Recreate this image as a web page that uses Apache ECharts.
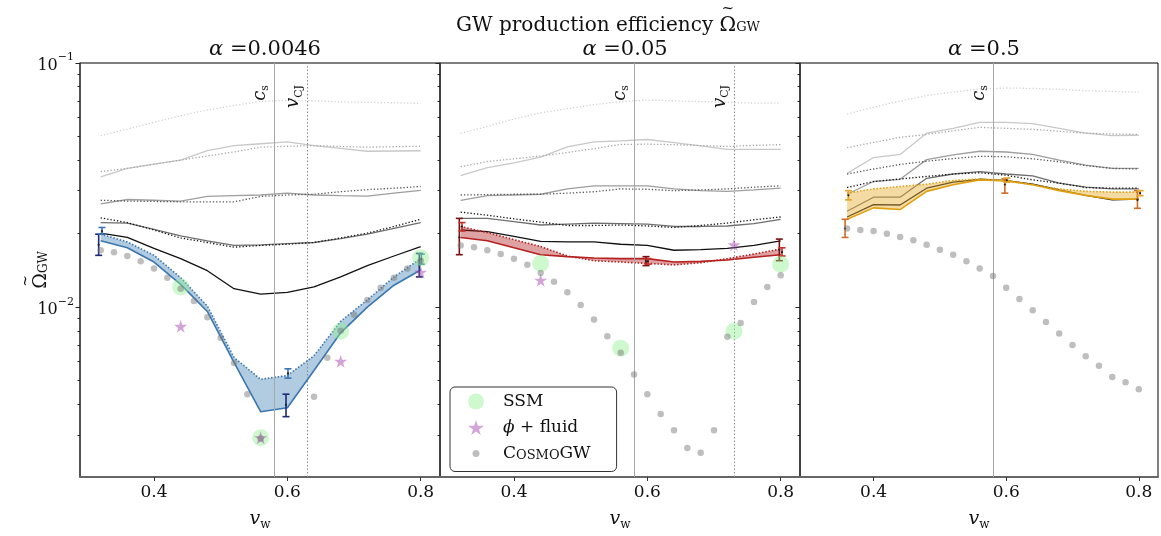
<!DOCTYPE html>
<html>
<head>
<meta charset="utf-8">
<script src="https://cdn.jsdelivr.net/npm/echarts@6/dist/echarts.min.js"></script>
<style>html,body{margin:0;padding:0;background:#fff}#main{width:1161px;height:536px}</style>
</head>
<body>
<div id="main"></div>
<script>
var FONT = 'DejaVu Serif';

// wall velocities of the simulation runs
var vwRuns = [0.32, 0.36, 0.40, 0.44, 0.48, 0.52, 0.56, 0.60, 0.64, 0.68, 0.72, 0.76, 0.80];
var vwRuns3 = [0.36, 0.40, 0.44, 0.48, 0.52, 0.56, 0.60, 0.64, 0.68, 0.72, 0.76, 0.80];
var vwCosmo = [0.32, 0.34, 0.36, 0.38, 0.40, 0.42, 0.44, 0.46, 0.48, 0.50, 0.52, 0.54, 0.56,
  0.58, 0.60, 0.62, 0.64, 0.66, 0.68, 0.70, 0.72, 0.74, 0.76, 0.78, 0.80];
var vwCosmo3 = [0.36, 0.38, 0.40, 0.42, 0.44, 0.46, 0.48, 0.50, 0.52, 0.54, 0.56, 0.58,
  0.60, 0.62, 0.64, 0.66, 0.68, 0.70, 0.72, 0.74, 0.76, 0.78, 0.80];

var cs = 0.5774;
var vCJ = [0.631, 0.7305, null];
var alphas = ['0.0046', '0.05', '0.5'];

// alpha = 0.0046
var a1_top = [0.0504, 0.0536, 0.0572, 0.0608, 0.0642, 0.067, 0.0696, 0.0703, 0.070, 0.0693, 0.069, 0.0687, 0.0683];
var a1_l2s = [0.0342, 0.037, 0.0385, 0.040, 0.0438, 0.0459, 0.0467, 0.0475, 0.0459, 0.0447, 0.0435, 0.0436, 0.0437];
var a1_l2d = [0.0359, 0.037, 0.0385, 0.040, 0.0416, 0.0432, 0.0452, 0.0456, 0.0459, 0.0455, 0.0452, 0.0454, 0.0456];
var a1_l3s = [0.0265, 0.0276, 0.0274, 0.0272, 0.0284, 0.0286, 0.0288, 0.0293, 0.0288, 0.0286, 0.0285, 0.0293, 0.0301];
var a1_l3d = [0.0274, 0.0272, 0.0271, 0.027, 0.027, 0.027, 0.0284, 0.0288, 0.029, 0.0297, 0.0303, 0.0307, 0.0312];
var a1_l4s = [0.0222, 0.0221, 0.0208, 0.0196, 0.0187, 0.0179, 0.018, 0.0182, 0.0184, 0.0191, 0.0199, 0.021, 0.0222];
var a1_l4d = [0.0232, 0.0222, 0.0207, 0.0192, 0.0184, 0.0176, 0.0179, 0.0181, 0.0184, 0.0192, 0.0201, 0.0214, 0.0229];
var a1_l5 = [0.0201, 0.0193, 0.0174, 0.0158, 0.0141, 0.0119, 0.0113, 0.0115, 0.0121, 0.0133, 0.0148, 0.0162, 0.0177];
var a1_lo = [0.0187, 0.0175, 0.0153, 0.0124, 0.0096, 0.00594, 0.00373, 0.00387, 0.0055, 0.00785, 0.0100, 0.0123, 0.0142];
var a1_hi = [0.0199, 0.0185, 0.0163, 0.0132, 0.0101, 0.00622, 0.00506, 0.00525, 0.00632, 0.00875, 0.0107, 0.0133, 0.0158];
var a1_cosmo = [0.0171, 0.0168, 0.0162, 0.0154, 0.0144, 0.0132, 0.0119, 0.0106, 0.0091, 0.0075, 0.0059, 0.0044, 0.0029,
  null, null, null, 0.0043, 0.0062, 0.0080, 0.0093, 0.0107, 0.0120, 0.0132, 0.0144, 0.0155];
var a1_ssmX = [0.44, 0.56, 0.68, 0.80];
var a1_ssm = [0.0121, 0.00292, 0.00797, 0.0159];
var a1_starX = [0.44, 0.56, 0.68, 0.80];
var a1_star = [0.00835, 0.00292, 0.0060, 0.0139];
// [vw, low, high, centre]
var a1_errDark = [[0.317, 0.0163, 0.0199, 0.018], [0.598, 0.00356, 0.0044, 0.00398], [0.798, 0.0133, 0.0166, 0.0148]];
var a1_errLight = [[0.322, 0.0199, 0.0212, 0.0205], [0.601, 0.00512, 0.00559, 0.00535], [0.801, 0.0150, 0.0165, 0.0157]];

// alpha = 0.05
var a2_top = [0.0515, 0.055, 0.059, 0.0625, 0.065, 0.0675, 0.0695, 0.0705, 0.070, 0.0695, 0.069, 0.0685, 0.0685];
var a2_l2s = [0.0346, 0.0373, 0.039, 0.0412, 0.0453, 0.0475, 0.048, 0.0486, 0.0472, 0.0458, 0.0443, 0.0443, 0.0443];
var a2_l2d = [0.0376, 0.0395, 0.0405, 0.0416, 0.043, 0.0446, 0.0464, 0.0465, 0.0463, 0.0459, 0.0455, 0.046, 0.0463];
var a2_l3s = [0.0274, 0.0286, 0.0288, 0.029, 0.0305, 0.0314, 0.0314, 0.0314, 0.0305, 0.030, 0.0298, 0.0302, 0.0307];
var a2_l3d = [0.0288, 0.0289, 0.029, 0.029, 0.0293, 0.0297, 0.0305, 0.0304, 0.030, 0.0302, 0.0305, 0.031, 0.0314];
var a2_l4s = [0.0231, 0.0231, 0.0224, 0.0217, 0.0219, 0.0221, 0.022, 0.0219, 0.0214, 0.0214, 0.0215, 0.022, 0.0229];
var a2_l4d = [0.0245, 0.0238, 0.023, 0.0223, 0.0216, 0.0216, 0.0217, 0.0215, 0.0212, 0.0216, 0.0221, 0.0228, 0.0234];
var a2_l5 = [0.0207, 0.0204, 0.0195, 0.0186, 0.0185, 0.0185, 0.0181, 0.0179, 0.0171, 0.0172, 0.0174, 0.0179, 0.0187];
var a2_lo = [0.0193, 0.0187, 0.0175, 0.0164, 0.0161, 0.0159, 0.0158, 0.0158, 0.0153, 0.0154, 0.0156, 0.016, 0.0164];
var a2_hi = [0.0214, 0.0202, 0.0189, 0.0177, 0.0162, 0.0155, 0.0153, 0.0151, 0.0149, 0.0152, 0.0158, 0.0165, 0.0173];
var a2_cosmo = [0.0179, 0.0176, 0.0171, 0.0165, 0.0158, 0.0149, 0.0138, 0.0127, 0.0115, 0.0102, 0.0089, 0.0076, 0.0065,
  0.0053, 0.0044, 0.00365, 0.00313, 0.00265, 0.00253, 0.00313, 0.00757, 0.00861, 0.0105, 0.0121, 0.0135];
var a2_ssmX = [0.44, 0.56, 0.73, 0.80];
var a2_ssm = [0.0151, 0.00679, 0.00797, 0.0150];
var a2_starX = [0.44, 0.73];
var a2_star = [0.0129, 0.0180];
var a2_errDark = [[0.318, 0.0164, 0.0231, 0.0193], [0.598, 0.0148, 0.0161, 0.0154], [0.798, 0.0155, 0.019, 0.0172]];
var a2_errLight = [[0.322, 0.0205, 0.0222, 0.0214], [0.601, 0.0150, 0.0158, 0.0154], [0.802, 0.0162, 0.0175, 0.0168]];

// alpha = 0.5
var a3_top = [0.0617, 0.066, 0.0698, 0.0736, 0.076, 0.0783, 0.079, 0.0787, 0.078, 0.077, 0.0765, 0.0759];
var a3_l2s = [0.0353, 0.041, 0.0422, 0.0516, 0.054, 0.0571, 0.0571, 0.0565, 0.054, 0.0516, 0.0504, 0.0506];
var a3_l2d = [0.045, 0.0473, 0.0496, 0.051, 0.0528, 0.0545, 0.054, 0.0535, 0.0525, 0.0516, 0.0512, 0.051];
var a3_l3s = [0.029, 0.0327, 0.0334, 0.0402, 0.042, 0.0435, 0.0432, 0.0422, 0.040, 0.0382, 0.037, 0.037];
var a3_l3d = [0.0351, 0.0368, 0.0384, 0.0396, 0.0406, 0.0415, 0.0413, 0.0405, 0.0394, 0.038, 0.037, 0.0368];
var a3_l4s = [0.0247, 0.0282, 0.0282, 0.0337, 0.0351, 0.0359, 0.0351, 0.0345, 0.0322, 0.031, 0.0305, 0.0305];
var a3_l4d = [0.0309, 0.0327, 0.0335, 0.0343, 0.0351, 0.0355, 0.0347, 0.0332, 0.0322, 0.0309, 0.0307, 0.0307];
var a3_l5 = [0.0234, 0.0263, 0.0262, 0.0307, 0.0325, 0.0334, 0.033, 0.0319, 0.0302, 0.0287, 0.0275, 0.0277];
var a3_lo = [0.0229, 0.0255, 0.0251, 0.0298, 0.0317, 0.0332, 0.0329, 0.0317, 0.030, 0.0287, 0.0277, 0.0277];
var a3_hi = [0.0293, 0.0305, 0.0312, 0.0319, 0.033, 0.0335, 0.033, 0.0317, 0.0305, 0.0298, 0.0296, 0.0296];
var a3_cosmo = [0.021, 0.0207, 0.0205, 0.0200, 0.0194, 0.0188, 0.018, 0.0172, 0.0164, 0.0154, 0.0144, 0.0134,
  0.0120, 0.0108, 0.0097, 0.0087, 0.0078, 0.0070, 0.0063, 0.00575, 0.00517, 0.00493, 0.00461];
var a3_errDark = [[0.357, 0.0193, 0.0229, 0.021], [0.598, 0.0293, 0.0335, 0.0318], [0.798, 0.0254, 0.030, 0.0275]];
var a3_errLight = [[0.362, 0.0275, 0.030, 0.0287], [0.601, 0.0325, 0.0338, 0.0331], [0.802, 0.0286, 0.030, 0.0293]];

var yTicks = [0.01, 0.1];
var yMinorTicks = [0.003, 0.004, 0.005, 0.006, 0.007, 0.008, 0.009,
  0.02, 0.03, 0.04, 0.05, 0.06, 0.07, 0.08, 0.09];
var xTicks = [0.4, 0.6, 0.8];

var panels = [
  {left: 80, width: 360, xs: vwRuns, top: a1_top, l2s: a1_l2s, l2d: a1_l2d, l3s: a1_l3s, l3d: a1_l3d,
    l4s: a1_l4s, l4d: a1_l4d, l5: a1_l5, lo: a1_lo, hi: a1_hi, cx: vwCosmo, cosmo: a1_cosmo,
    ssmX: a1_ssmX, ssm: a1_ssm, starX: a1_starX, star: a1_star, errDark: a1_errDark, errLight: a1_errLight,
    fill: 'rgba(70,130,180,0.42)', edge: '#3a76b0', dark: '#1c2a78', light: '#3c74b4'},
  {left: 440, width: 360, xs: vwRuns, top: a2_top, l2s: a2_l2s, l2d: a2_l2d, l3s: a2_l3s, l3d: a2_l3d,
    l4s: a2_l4s, l4d: a2_l4d, l5: a2_l5, lo: a2_lo, hi: a2_hi, cx: vwCosmo, cosmo: a2_cosmo,
    ssmX: a2_ssmX, ssm: a2_ssm, starX: a2_starX, star: a2_star, errDark: a2_errDark, errLight: a2_errLight,
    fill: 'rgba(178,34,34,0.42)', edge: '#b52020', dark: '#7a1010', light: '#c43028'},
  {left: 800, width: 358, xs: vwRuns3, top: a3_top, l2s: a3_l2s, l2d: a3_l2d, l3s: a3_l3s, l3d: a3_l3d,
    l4s: a3_l4s, l4d: a3_l4d, l5: a3_l5, lo: a3_lo, hi: a3_hi, cx: vwCosmo3, cosmo: a3_cosmo,
    ssmX: [], ssm: [], starX: [], star: [], errDark: a3_errDark, errLight: a3_errLight,
    fill: 'rgba(230,175,50,0.45)', edge: '#e0a010', dark: '#cf6a27', light: '#e5a628'}
];

var greyLines = [
  ['top', '#d2d2d2', [1.3, 2]],
  ['l2s', '#c8c8c8', 'solid'],
  ['l2d', '#a6a6a6', [1.3, 2]],
  ['l3s', '#9e9e9e', 'solid'],
  ['l3d', '#555555', [1.3, 2]],
  ['l4s', '#6e6e6e', 'solid'],
  ['l4d', '#111111', [1.3, 2]],
  ['l5', '#111111', 'solid']
];

var STAR = 'path://M50,0 L61,35 L98,35 L68,57 L79,91 L50,70 L21,91 L32,57 L2,35 L39,35 Z';
var DOT = 'path://M0,0 L0,0 M16,16 L16,16 M4.5,8 A3.5,3.5 0 1 0 11.5,8 A3.5,3.5 0 1 0 4.5,8 Z';

function zip(xs, ys) {
  var out = [];
  for (var i = 0; i < xs.length; i++) {
    if (ys[i] != null) out.push([xs[i], ys[i]]);
  }
  return out;
}

// text widths, used to put a tilde line exactly above the Omega
var measureCtx = document.createElement('canvas').getContext('2d');
function textWidth(str, size) {
  measureCtx.font = size + 'px "' + FONT + '"';
  return measureCtx.measureText(str).width;
}

// two-line rich text: a tilde line above "[prefix] Omega GW"
function omegaLabel(prefix, size, sub) {
  var n = prefix ? textWidth(prefix, size) : 0;
  var o = textWidth('Ω', size);
  var t = textWidth('~', size - 5);
  var g = textWidth('GW', sub);
  var text = '{sp1| }{t|~}{sp2| }\n' + (prefix ? '{n|' + prefix + '}' : '') + '{o|Ω}{s|GW}';
  var rich = {
    sp1: {width: n + (o - t) / 2, lineHeight: 5, fontSize: 4},
    sp2: {width: g + (o - t) / 2, lineHeight: 5, fontSize: 4},
    t: {fontFamily: FONT, fontSize: size - 5, lineHeight: 2, verticalAlign: 'bottom', color: '#111'},
    n: {fontFamily: FONT, fontSize: size, lineHeight: 17, color: '#111'},
    o: {fontFamily: FONT, fontSize: size, lineHeight: 17, color: '#111'},
    s: {fontFamily: FONT, fontSize: sub, lineHeight: 9, verticalAlign: 'bottom', color: '#111'}
  };
  return {text: text, rich: rich};
}

var grids = [], xAxes = [], yAxes = [], series = [], titles = [];

var mainTitle = omegaLabel('GW production efficiency ', 20, 13);
titles.push({
  text: mainTitle.text, left: 603, top: 7, textAlign: 'center',
  textStyle: {fontFamily: FONT, fontWeight: 'normal', fontSize: 20, color: '#111', rich: mainTitle.rich}
});
var yName = omegaLabel('', 19, 12);

panels.forEach(function (p, i) {
  grids.push({left: p.left, top: 63, width: p.width, height: 420, show: true,
    borderColor: '#000', borderWidth: 1, backgroundColor: 'transparent'});
  titles.push({
    text: '{a|α} =' + alphas[i], left: p.left + p.width / 2, top: 34, textAlign: 'center',
    textStyle: {fontFamily: FONT, fontWeight: 'normal', fontSize: 21, color: '#111',
      rich: {a: {fontFamily: FONT, fontStyle: 'italic', fontSize: 21, color: '#111'}}}
  });
  xAxes.push({
    type: 'value', gridIndex: i, min: 0.289, max: 0.829,
    name: '{v|v}{s|w}', nameLocation: 'middle', nameGap: 30,
    nameTextStyle: {rich: {v: {fontFamily: FONT, fontStyle: 'italic', fontSize: 19, color: '#111', lineHeight: 24},
      s: {fontFamily: FONT, fontSize: 12, color: '#111', verticalAlign: 'bottom', lineHeight: 24}}},
    axisLine: {lineStyle: {color: '#666', width: 2}},
    axisTick: {customValues: xTicks, length: 4, lineStyle: {color: '#333'}},
    axisLabel: {customValues: xTicks, margin: 7, fontFamily: FONT, fontSize: 17, color: '#111'},
    splitLine: {show: false}
  });
  yAxes.push({
    type: 'log', logBase: 10, gridIndex: i, position: 'left', min: 0.002015, max: 0.1,
    name: i === 0 ? yName.text : '', nameLocation: 'middle', nameRotate: 90, nameGap: 30,
    nameMoveOverlap: false,
    nameTextStyle: {rich: yName.rich},
    axisLine: {lineStyle: {color: '#444', width: 1.5}},
    axisTick: {customValues: yTicks, length: 4.5, lineStyle: {color: '#222'}},
    axisLabel: {show: i === 0, customValues: yTicks, margin: 6,
      formatter: function (v) { return '{b|10}{e|\u2212' + Math.round(-Math.log10(v)) + '}'; },
      rich: {b: {fontFamily: FONT, fontSize: 16, color: '#111', lineHeight: 22, verticalAlign: 'bottom'},
        e: {fontFamily: FONT, fontSize: 11, color: '#111', verticalAlign: 'top', lineHeight: 22}}},
    splitLine: {show: false}
  });
  yAxes.push({
    type: 'log', logBase: 10, gridIndex: i, position: 'left', min: 0.002015, max: 0.1,
    axisLine: {show: false},
    axisTick: {customValues: yMinorTicks, length: 2.5, lineStyle: {color: '#222'}},
    axisLabel: {show: false}, splitLine: {show: false}
  });

  var yi = i * 2;
  // grey comparison curves
  greyLines.forEach(function (g, k) {
    var s = {
      type: 'line', xAxisIndex: i, yAxisIndex: yi, data: zip(p.xs, p[g[0]]),
      showSymbol: false, silent: true, z: 2,
      lineStyle: {color: g[1], width: 1.3, type: g[2]}
    };
    if (k === 0) {
      var ml = [{xAxis: cs, lineStyle: {color: '#a8a8a8', width: 1, type: 'solid'},
        label: {formatter: '{i|c}{s|s}'}}];
      if (vCJ[i] != null) {
        ml.push({xAxis: vCJ[i], lineStyle: {color: '#8a8a8a', width: 1, type: [1.5, 2]},
          label: {formatter: '{i|v}{s|CJ}'}});
      }
      s.markLine = {
        symbol: ['none', 'none'], silent: true, data: ml,
        label: {position: 'insideEndTop', distance: [22, 3],
          rich: {i: {fontFamily: FONT, fontStyle: 'italic', fontSize: 18, color: '#111', lineHeight: 22},
            s: {fontFamily: FONT, fontSize: 11, color: '#111', verticalAlign: 'bottom', lineHeight: 22}}}
      };
    }
    series.push(s);
  });

  // shaded band between solid and dotted coloured curves
  series.push({
    type: 'custom', xAxisIndex: i, yAxisIndex: yi, silent: true, z: 3,
    data: p.xs.map(function (x, j) { return [x, p.lo[j], p.hi[j]]; }),
    encode: {x: 0, y: [1, 2]},
    renderItem: function (params, api) {
      if (params.dataIndex !== 0) return null;
      var top = p.xs.map(function (x, j) { return api.coord([x, p.hi[j]]); });
      var bot = p.xs.map(function (x, j) { return api.coord([x, p.lo[j]]); }).reverse();
      return {type: 'polygon', shape: {points: top.concat(bot)}, style: {fill: p.fill}};
    }
  });
  series.push({type: 'line', xAxisIndex: i, yAxisIndex: yi, data: zip(p.xs, p.lo), showSymbol: false,
    silent: true, z: 4, lineStyle: {color: p.edge, width: 1.6}});
  series.push({type: 'line', xAxisIndex: i, yAxisIndex: yi, data: zip(p.xs, p.hi), showSymbol: false,
    silent: true, z: 4, lineStyle: {color: p.edge, width: 1.6, type: [1.5, 1.8]}});

  [[p.errDark, p.dark], [p.errLight, p.light]].forEach(function (e) {
    series.push({
      type: 'custom', xAxisIndex: i, yAxisIndex: yi, silent: true, z: 6,
      data: e[0], encode: {x: 0, y: [1, 2]},
      renderItem: function (params, api) {
        var x = api.value(0);
        var a = api.coord([x, api.value(1)]);
        var b = api.coord([x, api.value(2)]);
        var m = api.coord([x, api.value(3)]);
        var w = 3.5, st = {stroke: e[1], lineWidth: 1.6};
        return {type: 'group', children: [
          {type: 'line', shape: {x1: a[0], y1: a[1], x2: b[0], y2: b[1]}, style: st},
          {type: 'line', shape: {x1: a[0] - w, y1: a[1], x2: a[0] + w, y2: a[1]}, style: st},
          {type: 'line', shape: {x1: b[0] - w, y1: b[1], x2: b[0] + w, y2: b[1]}, style: st},
          {type: 'circle', shape: {cx: m[0], cy: m[1], r: 1.1}, style: {fill: '#222'}}
        ]};
      }
    });
  });

  series.push({name: 'SSM', type: 'scatter', xAxisIndex: i, yAxisIndex: yi, data: zip(p.ssmX, p.ssm),
    symbol: 'circle', symbolSize: 17, z: 7, itemStyle: {color: 'rgba(144,238,144,0.55)'}});
  series.push({name: 'φ + fluid', type: 'scatter', xAxisIndex: i, yAxisIndex: yi, data: zip(p.starX, p.star),
    symbol: STAR, symbolSize: 13, z: 8, itemStyle: {color: 'rgba(165,70,175,0.62)'}});
  series.push({name: 'CosmoGW', type: 'scatter', xAxisIndex: i, yAxisIndex: yi, data: zip(p.cx, p.cosmo),
    symbol: 'circle', symbolSize: 6.5, z: 9, itemStyle: {color: 'rgba(120,120,120,0.6)'}});
});

var chart = echarts.init(document.getElementById('main'));
chart.setOption({
  animation: false,
  backgroundColor: '#fff',
  title: titles,
  grid: grids,
  xAxis: xAxes,
  yAxis: yAxes,
  legend: {
    left: 450, top: 387, orient: 'vertical',
    data: [{name: 'SSM', icon: 'circle'}, {name: 'φ + fluid', icon: STAR}, {name: 'CosmoGW', icon: DOT}],
    itemWidth: 16, itemHeight: 16, itemGap: 9,
    padding: [6, 26, 9, 18],
    borderColor: '#333', borderWidth: 1, borderRadius: 5, backgroundColor: '#fff',
    formatter: function (n) {
      if (n === 'SSM') return '{n|SSM}';
      if (n === 'CosmoGW') return '{n|C}{c|OSMO}{n|GW}';
      return '{i|ϕ}{n| + fluid}';
    },
    textStyle: {padding: [0, 0, 0, 14], rich: {
      n: {fontFamily: FONT, fontSize: 17, color: '#111'},
      c: {fontFamily: FONT, fontSize: 13, color: '#111', verticalAlign: 'bottom', lineHeight: 18},
      i: {fontFamily: FONT, fontStyle: 'italic', fontSize: 17, color: '#111'}}}
  },
  series: series
});
</script>
</body>
</html>
